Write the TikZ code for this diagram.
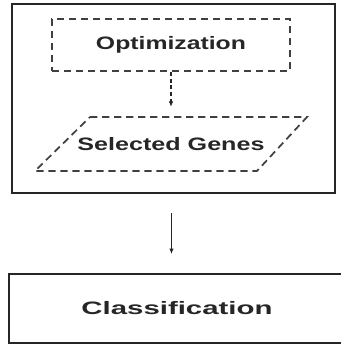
\documentclass[tikz,border=0pt]{standalone}
\usepackage{fontspec}
\setmainfont{Liberation Sans}
\usepackage{graphicx}
\usetikzlibrary{arrows.meta}
\tikzset{
  solidbox/.style={draw=black!85, line width=1.6pt, rectangle, inner sep=0pt},
  dashbox/.style={draw=black!75, line width=1.3pt, dash pattern=on 5.5pt off 3.5pt, inner sep=0pt},
  lbl/.style={font=\fontsize{13.5pt}{16pt}\selectfont\bfseries, text=black!85},
  arr/.style={-{Latex[length=4pt,width=3.5pt]}, line width=0.9pt, draw=black!85},
}
\begin{document}
\begin{tikzpicture}[x=0.75pt,y=-0.75pt]
\useasboundingbox (0,0) rectangle (341,347);
\node[solidbox, minimum width=242.25pt, minimum height=141.75pt] (outer) at (173.5,98.5) {};
\node[dashbox, rectangle, minimum width=178.5pt, minimum height=39pt, lbl] (opt) at (171,45)
  {\resizebox{112.5pt}{\height}{Optimization}};
\node[rectangle, inner sep=0pt, minimum width=163pt, minimum height=40.5pt, lbl] (sel) at (171,144)
  {\resizebox{140.25pt}{\height}{Selected Genes}};
\draw[dashbox] ([shift={(-81,-27)}]sel.center) -- ([shift={(136,-27)}]sel.center)
  -- ([shift={(86,27)}]sel.center) -- ([shift={(-136,27)}]sel.center) -- cycle;
\node[solidbox, minimum width=252pt, minimum height=51.75pt, lbl] (cls) at (177,308.5)
  {\resizebox{143.25pt}{\height}{Classification}};
\draw[arr, dash pattern=on 3pt off 2pt, shorten >=7.5pt] (opt.south) -- (sel.north);
\draw[arr, shorten <=14.25pt, shorten >=14.25pt] ([xshift=-1.5pt]outer.south) -- ([xshift=-1.5pt]outer.south |- cls.north);
\end{tikzpicture}
\end{document}
